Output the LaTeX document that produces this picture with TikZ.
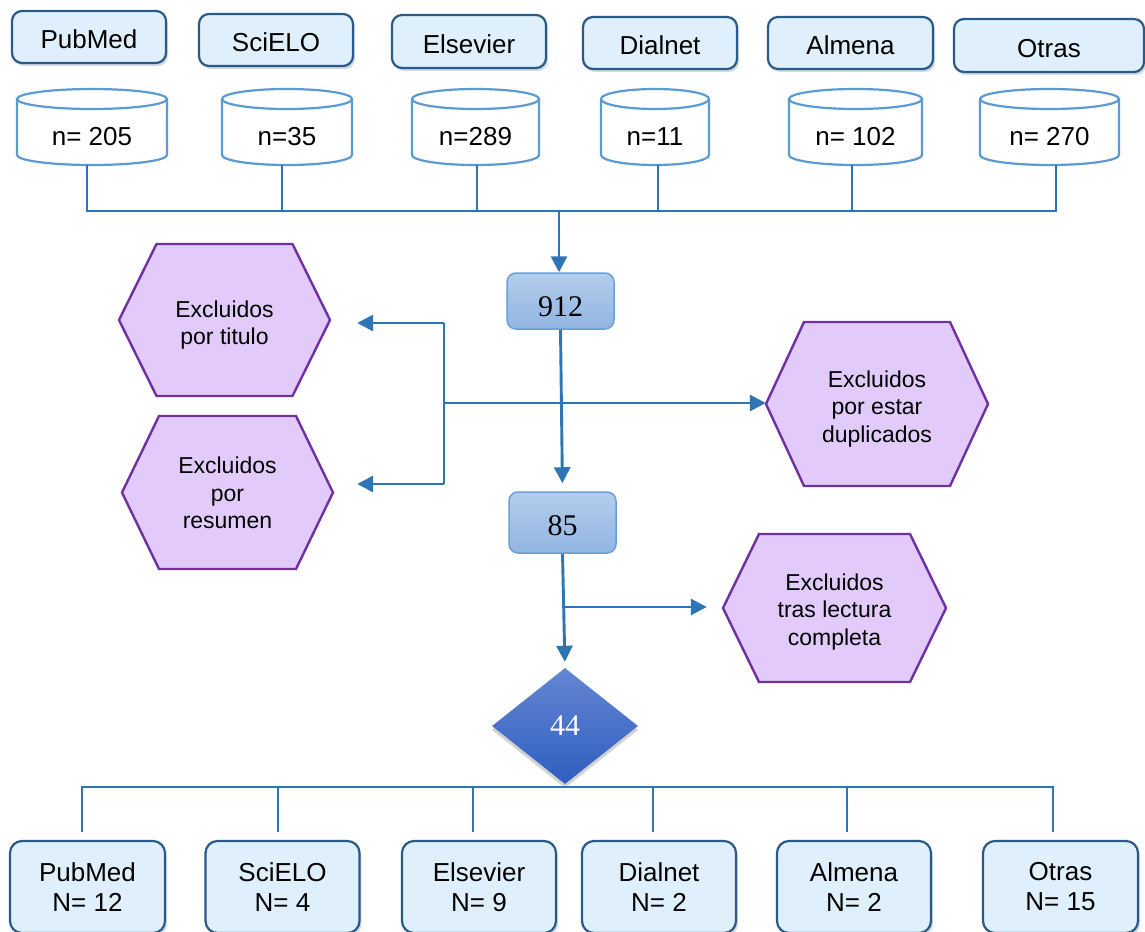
\documentclass[tikz,border=0pt]{standalone}
\usepackage{fontspec}
\setmainfont{Liberation Sans}
\newfontfamily\numfont{Liberation Serif}
\usetikzlibrary{arrows.meta,shapes.geometric,shadows,calc}
\definecolor{lnblue}{HTML}{2E75B6}
\definecolor{boxfill}{HTML}{DFF0FC}
\definecolor{boxline}{HTML}{2C5A88}
\definecolor{cylline}{HTML}{5B9BD5}
\definecolor{hexfill}{HTML}{E2CBFB}
\definecolor{hexline}{HTML}{7030A0}
\definecolor{midtop}{HTML}{B4CDEB}
\definecolor{midbot}{HTML}{92B5E2}
\definecolor{midline}{HTML}{6A9FD8}
\definecolor{diatop}{HTML}{6486D2}
\definecolor{diabot}{HTML}{2F5EC0}
\newcommand\dbcyl[4]{%
  \draw[cylst] (#2,99) -- (#2,155) arc[start angle=180,end angle=360,x radius={(#3-#2)/2*1pt},y radius=10pt] -- (#3,99);
  \draw[cylst] ({(#2+#3)/2},99) ellipse[x radius={(#3-#2)/2*1pt}, y radius=10pt];
  \node[cylnode, minimum width={(#3-#2)*1pt}] (#1) at ({(#2+#3)/2},127) {#4};}
\newcommand\hexnode[8]{%
  \draw[hexst] (#2-#4,#3) -- (#2-#4+#6,#3-#5) -- (#2+#4-#6,#3-#5) -- (#2+#4,#3) -- (#2+#4-#6,#3+#5) -- (#2-#4+#6,#3+#5) -- cycle;
  \node[hextext, minimum width={2*#4*1pt}, minimum height={2*#5*1pt}] (#1) at (#2,#3+#8) {#7};}
\begin{document}
\begin{tikzpicture}[x=1pt,y=-1pt,
  srcbox/.style={draw=boxline, line width=2.2pt, fill=boxfill, rounded corners=10pt, inner sep=0pt,
    font=\fontsize{26}{30}\selectfont, text height=24pt, text depth=0pt,
    drop shadow={shadow xshift=2pt, shadow yshift=-3pt, opacity=0.22, fill=boxline}},
  resbox/.style={draw=boxline, line width=2.2pt, fill=boxfill, rounded corners=12pt, inner sep=0pt,
    align=center, font=\fontsize{26}{30}\selectfont, minimum height=92pt,
    drop shadow={shadow xshift=2pt, shadow yshift=-3pt, opacity=0.22, fill=boxline}},
  cylnode/.style={inner sep=0pt, minimum height=76pt, font=\fontsize{26}{30}\selectfont, text height=37.6pt, text depth=0pt},
  cylst/.style={draw=cylline, line width=2.2pt},
  hexst/.style={draw=hexline, fill=hexfill, line width=2.4pt, line join=miter},
  hextext/.style={inner sep=0pt, align=center, font=\fontsize{23}{27.5}\selectfont},
  midbox/.style={draw=midline, line width=1.5pt, top color=midtop, bottom color=midbot, rounded corners=9pt,
    inner sep=0pt, font=\numfont\fontsize{30}{30}\selectfont, text depth=0pt},
  conn/.style={draw=lnblue, line width=2.9pt},
  arr/.style={conn, -{Triangle[length=16pt,width=16pt]}},
]
\useasboundingbox (0,0) rectangle (1145,931);
\fill[white] (0,0) rectangle (1145,931);

% top source boxes
\node[srcbox, minimum width=154pt, minimum height=52pt] (s1) at (89,37) {PubMed};
\node[srcbox, minimum width=154pt, minimum height=52pt] (s2) at (276,40) {SciELO};
\node[srcbox, minimum width=154pt, minimum height=53pt] (s3) at (469,41.5) {Elsevier};
\node[srcbox, minimum width=154pt, minimum height=52pt] (s4) at (660,43) {Dialnet};
\node[srcbox, minimum width=165pt, minimum height=52pt] (s5) at (850.5,43) {Almena};
\node[srcbox, minimum width=190pt, minimum height=53pt] (s6) at (1049,45.5) {Otras};

% cylinders
\dbcyl{c1}{17}{167}{n= 205}
\dbcyl{c2}{222}{352}{n=35}
\dbcyl{c3}{412}{539}{n=289}
\dbcyl{c4}{601}{709}{n=11}
\dbcyl{c5}{789}{922}{n= 102}
\dbcyl{c6}{980}{1119}{n= 270}

% top bus
\coordinate (b1) at (87,211);
\coordinate (b2) at (282,211);
\coordinate (b3) at (477,211);
\coordinate (b4) at (658,211);
\coordinate (b5) at (852,211);
\coordinate (b6) at (1056,211);
\coordinate (bm) at (559,211);
\draw[conn] (c1.south -| b1) -- (b1) -- (b6) -- (c6.south -| b6);
\foreach \i in {2,3,4,5} {\draw[conn] (c\i.south -| b\i) -- (b\i);}

% middle boxes
\node[midbox, minimum width=107pt, minimum height=56pt, text height=30pt] (n912) at (560.5,301) {912};
\node[midbox, minimum width=107pt, minimum height=61pt, text height=25pt] (n85) at (562.5,522.5) {85};
\draw[arr] (bm) -- (bm |- n912.north);

% hexagons
\hexnode{htit}{224.5}{320}{105.5}{76}{37.5}{Excluidos\\por titulo}{5}
\hexnode{hres}{227.5}{492.5}{105.5}{76.5}{37}{Excluidos\\por\\resumen}{0.5}
\hexnode{hdup}{877}{404}{111}{82}{38}{Excluidos\\por estar\\duplicados}{5}
\hexnode{hlec}{834.5}{608}{111.5}{74}{36}{Excluidos\\tras lectura\\completa}{4}

% diamond
\node[diamond, minimum width=146pt, minimum height=116pt, inner sep=0pt, aspect=1.26,
  top color=diatop, bottom color=diabot, draw=none, text=white,
  font=\numfont\fontsize{30}{30}\selectfont,
  drop shadow={opacity=0.35, shadow xshift=0pt, shadow yshift=-4pt}] (d44) at (565,726) {44};

% branches
\coordinate (jt) at (444,323);
\coordinate (jr) at (444,484);
\coordinate (jm) at (444,403);
\coordinate (j2) at (565,607);
\draw[conn] (jt) -- (jr);
\draw[arr, shorten >=27pt] (jt) -- (jt -| htit.east);
\draw[arr, shorten >=24pt] (jr) -- (jr -| hres.east);
\draw[arr] (jm) -- (jm -| hdup.west);
\draw[arr, shorten >=8pt] (n912.south) -- (n85.north);
\draw[arr, shorten >=6pt] (n85.south) -- (d44.north);
\draw[arr, shorten >=16pt] (j2) -- (j2 -| hlec.west);

% bottom boxes
\node[resbox, minimum width=155pt] (bb1) at (87.5,887) {PubMed\\N= 12};
\node[resbox, minimum width=154pt] (bb2) at (282.5,887) {SciELO\\N= 4};
\node[resbox, minimum width=154pt] (bb3) at (479,887) {Elsevier\\N= 9};
\node[resbox, minimum width=154pt] (bb4) at (659,887) {Dialnet\\N= 2};
\node[resbox, minimum width=154pt] (bb5) at (854,887) {Almena\\N= 2};
\node[resbox, minimum width=155pt] (bb6) at (1060.5,887) {Otras\\N= 15};

% bottom bus
\coordinate (e1) at (82,787);
\coordinate (e2) at (278,787);
\coordinate (e3) at (473,787);
\coordinate (e4) at (653,787);
\coordinate (e5) at (847,787);
\coordinate (e6) at (1053,787);
\draw[conn, shorten <=8pt, shorten >=8pt] (e1 |- bb1.north) -- (e1) -- (e6) -- (e6 |- bb6.north);
\foreach \i in {2,3,4,5} {\draw[conn, shorten >=8pt] (e\i) -- (e\i |- bb\i.north);}
\end{tikzpicture}
\end{document}
